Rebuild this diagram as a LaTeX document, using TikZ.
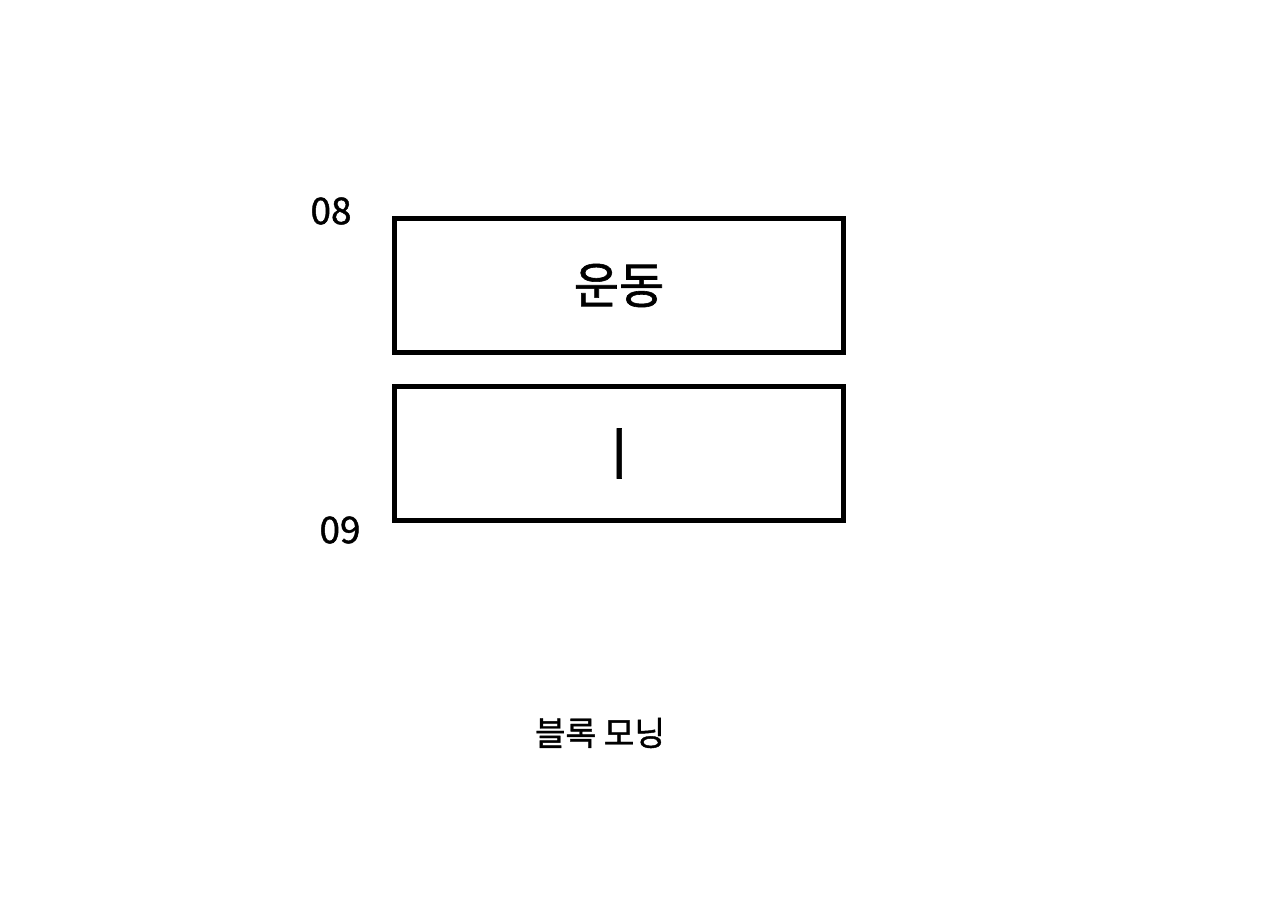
\documentclass[tikz,border=0pt]{standalone}
\usepackage{fontspec}
\setmainfont[FakeBold=1.2]{Noto Sans CJK KR}
\usetikzlibrary{positioning}

\begin{document}
\begin{tikzpicture}[
    x=0.02cm,
    y=-0.02cm,
    node distance=0.57cm,
    slot/.style={
        rectangle,
        draw=black,
        line width=0.11cm,
        minimum width=8.98cm,
        minimum height=2.68cm,
        text centered,
        font=\fontsize{28}{30}\selectfont
    },
    hour/.style={font=\fontsize{21}{24}\selectfont},
    caption/.style={font=\fontsize{19}{22}\selectfont}
]
    \useasboundingbox (0,0) rectangle (1280,896);

    % Time blocks
    \node[slot] (exercise) at (619,285.5) {운동};
    \node[slot, below=of exercise] (blank) {\fontsize{32}{34}\selectfont ㅣ};

    % Hour labels
    \node[hour] (h08) at (331,211) {08};
    \node[hour] (h09) at (340,530) {09};

    % Caption
    \node[caption] (title) at (600,733) {블록 모닝};
\end{tikzpicture}
\end{document}
